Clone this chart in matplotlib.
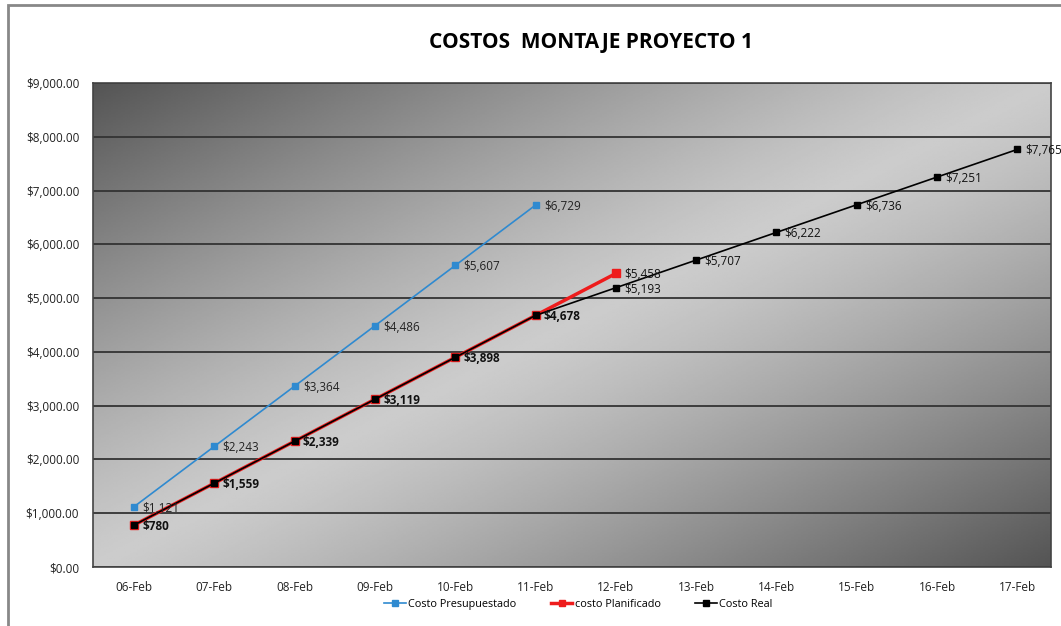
import numpy as np
import matplotlib.pyplot as plt
import matplotlib.ticker as ticker
from matplotlib.patches import Rectangle

# datos del grafico
fechas = ['06-Feb', '07-Feb', '08-Feb', '09-Feb', '10-Feb', '11-Feb',
          '12-Feb', '13-Feb', '14-Feb', '15-Feb', '16-Feb', '17-Feb']
presupuestado = [1121, 2243, 3364, 4486, 5607, 6729]
planificado = [780, 1559, 2339, 3119, 3898, 4678, 5458]
real = [780, 1559, 2339, 3119, 3898, 4678, 5193, 5707, 6222, 6736, 7251, 7765]

plt.rcParams['font.family'] = ['Open Sans', 'DejaVu Sans']

fig = plt.figure(figsize=(10.61, 6.26), dpi=100)
ax = fig.add_axes([0.0877, 0.0942, 0.9029, 0.7732])

# fondo degradado (oscuro en esquinas sup-izq e inf-der, claro al centro)
gx, gy = np.meshgrid(np.linspace(0, 1, 400), np.linspace(0, 1, 300))
t = np.abs(gx + gy - 1)
grad = 0.80 - 0.47 * t**1.2
ax.imshow(grad, cmap='gray', vmin=0, vmax=1, extent=[0, 1, 0, 1],
          transform=ax.transAxes, aspect='auto', zorder=0, origin='upper')

x = np.arange(len(fechas))
ax.plot(x[:len(presupuestado)], presupuestado, color='#2f8ad0', lw=1.2,
        marker='s', ms=5, zorder=3, label='Costo Presupuestado')
ax.plot(x[:len(planificado)], planificado, color='#ee1c1c', lw=2.5,
        marker='s', ms=6, zorder=3, label='costo Planificado')
ax.plot(x, real, color='black', lw=1.2, marker='s', ms=5, zorder=4,
        label='Costo Real')

for xi, v in zip(x, presupuestado):
    ax.annotate(f'${v:,}', (xi, v), xytext=(6, -1), textcoords='offset points',
                va='center', fontsize=8.5, color='#222222', zorder=5)
for xi, v in zip(x, planificado):
    ax.annotate(f'${v:,}', (xi, v), xytext=(6, -1), textcoords='offset points',
                va='center', fontsize=8.5, color='#111111', zorder=5,
                fontweight='bold' if v != planificado[-1] else 'normal')
for xi, v in zip(x[len(planificado) - 1:], real[len(planificado) - 1:]):
    ax.annotate(f'${v:,}', (xi, v), xytext=(6, -1), textcoords='offset points',
                va='center', fontsize=8.5, color='#111111', zorder=5)

ax.set_ylim(0, 9000)
ax.set_xlim(-0.51, 11.42)
ax.set_xticks(x)
ax.set_xticklabels(fechas)
ax.yaxis.set_major_locator(ticker.MultipleLocator(1000))
ax.yaxis.set_major_formatter(ticker.FuncFormatter(lambda v, p: f'${v:,.2f}'))
ax.tick_params(length=0, labelsize=8.5, colors='#222222', pad=10)
ax.grid(axis='y', color='#333333', lw=1.3, zorder=1)
for s in ax.spines.values():
    s.set_color('#444444')
    s.set_linewidth(1.2)

fig.text(0.557, 0.932, 'COSTOS  MONTAJE PROYECTO 1', ha='center', va='center',
         fontsize=15, fontweight='bold')

ax.legend(loc='center', bbox_to_anchor=(0.545, 0.034), bbox_transform=fig.transFigure,
          ncol=3, frameon=False, fontsize=7.8, handlelength=2.0, columnspacing=3.2,
          handletextpad=0.2, markerscale=0.8)

# borde exterior del grafico
fig.add_artist(Rectangle((8 / 1061, -0.05), 1.2, 1 - 5 / 626 + 0.05,
                         transform=fig.transFigure, fill=False,
                         edgecolor='#888888', lw=2))

fig.savefig('out.png', dpi=100)
